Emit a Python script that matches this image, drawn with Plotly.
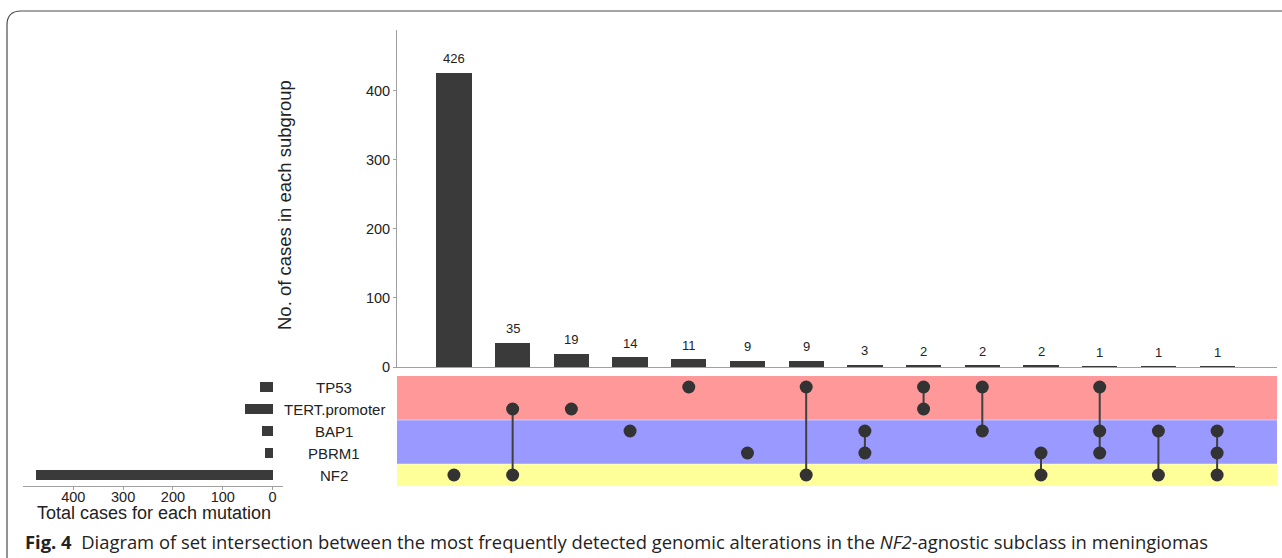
import plotly.graph_objects as go

# ---------------- data ----------------
sets = ["TP53", "TERT.promoter", "BAP1", "PBRM1", "NF2"]
set_sizes = [25, 56, 22, 16, 474]
set_band_colors = ["#ff9999", "#ff9999", "#9999ff", "#9999ff", "#ffff99"]

intersection_counts = [426, 35, 19, 14, 11, 9, 9, 3, 2, 2, 2, 1, 1, 1]
intersection_members = [
    ["NF2"],
    ["TERT.promoter", "NF2"],
    ["TERT.promoter"],
    ["BAP1"],
    ["TP53"],
    ["PBRM1"],
    ["TP53", "NF2"],
    ["BAP1", "PBRM1"],
    ["TP53", "TERT.promoter"],
    ["TP53", "BAP1"],
    ["PBRM1", "NF2"],
    ["TP53", "BAP1", "PBRM1"],
    ["BAP1", "NF2"],
    ["BAP1", "PBRM1", "NF2"],
]
bar_ticks = [0, 100, 200, 300, 400]
size_ticks = [0, 100, 200, 300, 400]

caption = ("<b>Fig. 4</b>  Diagram of set intersection between the most frequently detected "
           "genomic alterations in the <i>NF2</i>-agnostic subclass in meningiomas")

# ---------------- layout helpers ----------------
W, H = 1282, 558
H_EFF = 550   # effective height seen in the photographed page
def px(x):
    return x / W
def py(y):
    return 1 - y / H_EFF

n_sets = len(sets)
row_of = {s: n_sets - 1 - i for i, s in enumerate(sets)}   # TP53 top, NF2 bottom
cols = list(range(len(intersection_counts)))

FONT = "Liberation Sans, Arial, sans-serif"
DARK = "#3a3a3a"
AXIS = "#a0a0a0"

fig = go.Figure()

# intersection bars
fig.add_trace(go.Bar(
    x=cols, y=intersection_counts, width=0.6,
    marker=dict(color=DARK, line=dict(width=0)),
    xaxis="x", yaxis="y", hoverinfo="x+y", showlegend=False,
))

# matrix dots + connecting lines
for c, members in zip(cols, intersection_members):
    rows = sorted(row_of[m] for m in members)
    fig.add_trace(go.Scatter(
        x=[c] * len(rows), y=rows, mode="lines+markers",
        line=dict(color="#404040", width=2),
        marker=dict(color="#333333", size=13),
        xaxis="x2", yaxis="y2", showlegend=False, hoverinfo="skip",
    ))

# set size bars
fig.add_trace(go.Bar(
    x=set_sizes, y=[row_of[s] for s in sets], orientation="h", width=0.42,
    marker=dict(color=DARK, line=dict(width=0)),
    xaxis="x3", yaxis="y3", showlegend=False,
))

shapes = []
# background bands for the matrix rows
for s, col in zip(sets, set_band_colors):
    r = row_of[s]
    shapes.append(dict(type="rect", xref="paper", yref="y2",
                       x0=px(397), x1=px(1277), y0=r - 0.5, y1=r + 0.5,
                       fillcolor=col, line=dict(width=0), layer="below"))
# faint separators between colour groups
for yb in [0.5, 2.5]:
    shapes.append(dict(type="line", xref="paper", yref="y2",
                       x0=px(397), x1=px(1277), y0=yb, y1=yb,
                       line=dict(color="rgba(255,255,255,0.45)", width=1), layer="below"))
# figure frame
frame = (f"M {px(7)},{py(575)} L {px(7)},{py(25)} "
         f"Q {px(7)},{py(11)} {px(21)},{py(11)} L {px(1284)},{py(11)}")
shapes.append(dict(type="path", xref="paper", yref="paper", path=frame,
                   line=dict(color="#4d4d4d", width=1.2)))

annotations = []
# bar count labels
for c, v in zip(cols, intersection_counts):
    annotations.append(dict(x=c, y=v, xref="x", yref="y", text=str(v), showarrow=False,
                            xanchor="center", yanchor="middle", yshift=14,
                            font=dict(family=FONT, size=13, color="#222")))
# set names
for s in sets:
    annotations.append(dict(x=px(334), y=row_of[s], xref="paper", yref="y2", text=s,
                            showarrow=False, xanchor="center", yanchor="middle",
                            font=dict(family=FONT, size=15, color="#222")))
# axis titles
annotations.append(dict(x=px(284), y=py(205), xref="paper", yref="paper",
                        text="No. of cases in each subgroup", textangle=-90, showarrow=False,
                        xanchor="center", yanchor="middle",
                        font=dict(family=FONT, size=18.5, color="#222")))
annotations.append(dict(x=px(154), y=py(513), xref="paper", yref="paper",
                        text="Total cases for each mutation", showarrow=False,
                        xanchor="center", yanchor="middle",
                        font=dict(family=FONT, size=18, color="#222")))
# caption
annotations.append(dict(x=px(23), y=py(541), xref="paper", yref="paper", text=caption,
                        showarrow=False, xanchor="left", yanchor="middle",
                        font=dict(family="Open Sans, Noto Sans, sans-serif", size=18.4, color="#222")))

xr = [-0.97, 14.02]
row_range = [-0.5, n_sets - 0.5]

fig.update_layout(
    width=W, height=H, margin=dict(l=0, r=0, t=0, b=0),
    paper_bgcolor="white", plot_bgcolor="white",
    font=dict(family=FONT, color="#222"),
    bargap=0,
    xaxis=dict(domain=[px(397), px(1277)], range=xr, anchor="y",
               showticklabels=False, ticks="", showgrid=False, zeroline=False,
               showline=True, linecolor=AXIS, linewidth=1),
    yaxis=dict(domain=[py(367), py(30)], range=[0, 488], anchor="x",
               tickvals=bar_ticks, ticks="outside", ticklen=3, tickcolor=AXIS,
               tickfont=dict(family=FONT, size=14.5, color="#222"),
               showgrid=False, zeroline=False, showline=True, linecolor=AXIS, linewidth=1),
    xaxis2=dict(domain=[px(397), px(1277)], range=xr, anchor="y2", matches="x",
                visible=False),
    yaxis2=dict(domain=[py(486), py(376)], range=row_range, anchor="x2", visible=False),
    xaxis3=dict(domain=[px(23), px(283)], range=[501, -21], anchor="y3",
                tickvals=size_ticks, ticks="outside", ticklen=3, tickcolor=AXIS,
                ticklabelstandoff=-5,
                tickfont=dict(family=FONT, size=14.5, color="#222"),
                showgrid=False, zeroline=False, showline=True, linecolor=AXIS, linewidth=1),
    yaxis3=dict(domain=[py(486), py(376)], range=row_range, anchor="x3", visible=False),
    shapes=shapes, annotations=annotations,
)

fig.write_html("out.html", config={"displayModeBar": False},
               post_script="document.body.style.margin='0px';document.body.style.overflow='hidden';")
